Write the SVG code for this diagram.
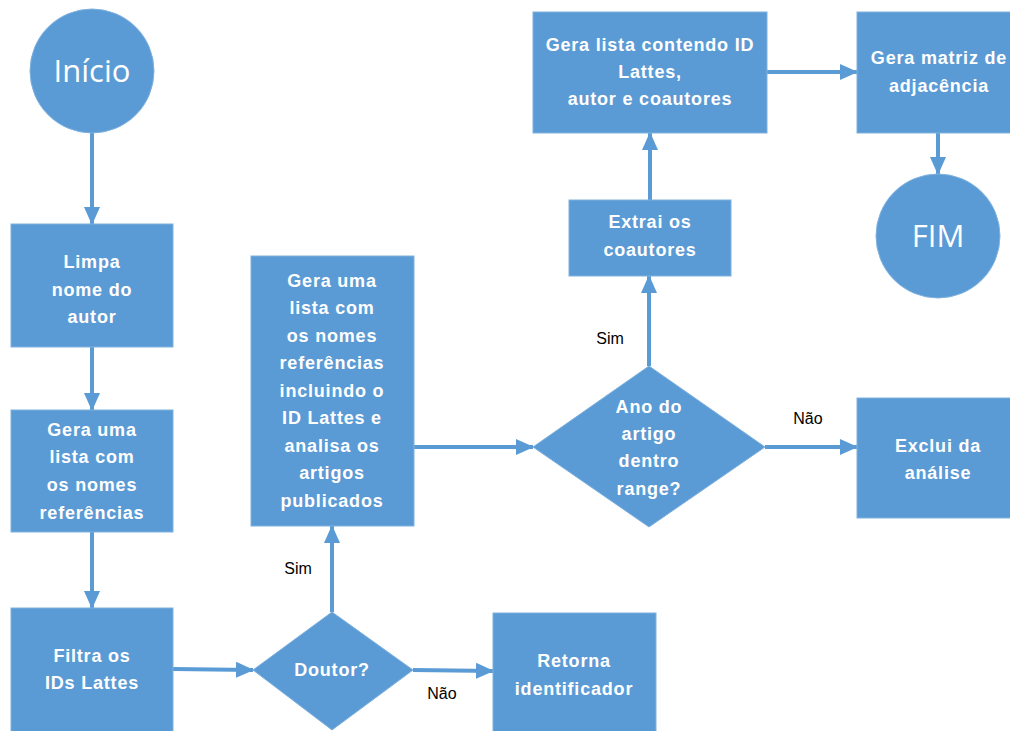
<svg xmlns="http://www.w3.org/2000/svg" width="1010" height="731" viewBox="0 0 1010 731">
<defs>
<style>
.n{fill:#5b9bd5;stroke:#7fb1de;stroke-width:1}
.t{font-family:"Liberation Sans",Arial,sans-serif;font-weight:bold;font-size:18px;letter-spacing:0.8px;fill:#ffffff;text-anchor:middle}
.big{font-family:"Open Sans","Liberation Sans",sans-serif;font-size:31px;fill:#ffffff;text-anchor:middle}
.l{font-family:"Liberation Sans",Arial,sans-serif;font-size:16px;fill:#000000;text-anchor:middle}
.c{stroke:#5b9bd5;stroke-width:4;fill:none;marker-end:url(#ah)}
</style>
<marker id="ah" markerUnits="userSpaceOnUse" markerWidth="18" markerHeight="18" viewBox="0 0 18 18" refX="17" refY="9" orient="auto">
<path d="M0,1 L18,9 L0,17 Z" fill="#5b9bd5"/>
</marker>
</defs>
<rect width="1010" height="731" fill="#ffffff"/>
<g id="connectors">
<line class="c" x1="92" y1="133" x2="92" y2="224"/>
<line class="c" x1="92" y1="347" x2="92" y2="410"/>
<line class="c" x1="92" y1="532" x2="92" y2="608"/>
<line class="c" x1="173" y1="669" x2="253" y2="670"/>
<line class="c" x1="332" y1="612" x2="332" y2="526"/>
<line class="c" x1="413" y1="670" x2="493" y2="671"/>
<line class="c" x1="414" y1="447" x2="533" y2="447"/>
<line class="c" x1="649" y1="366" x2="649" y2="276"/>
<line class="c" x1="765" y1="447" x2="857" y2="447"/>
<line class="c" x1="650" y1="200" x2="650" y2="133"/>
<line class="c" x1="767" y1="72" x2="857" y2="72"/>
<line class="c" x1="938" y1="133" x2="938" y2="174"/>
<text class="l" x="298" y="574">Sim</text>
<text class="l" x="442" y="699">Não</text>
<text class="l" x="610" y="344">Sim</text>
<text class="l" x="808" y="424">Não</text>
</g>
<g id="inicio">
<circle class="n" cx="92" cy="71" r="62"/>
<text class="big" x="92" y="82">Início</text>
</g>
<g id="limpa">
<rect class="n" x="11" y="224" width="162" height="123"/>
<text class="t" x="92" y="268">Limpa</text>
<text class="t" x="92" y="296">nome do</text>
<text class="t" x="92" y="323">autor</text>
</g>
<g id="gera-lista">
<rect class="n" x="11" y="410" width="162" height="122"/>
<text class="t" x="92" y="436">Gera uma</text>
<text class="t" x="92" y="463">lista com</text>
<text class="t" x="92" y="491">os nomes</text>
<text class="t" x="92" y="519">referências</text>
</g>
<g id="filtra">
<rect class="n" x="11" y="608" width="162" height="130"/>
<text class="t" x="92" y="662">Filtra os</text>
<text class="t" x="92" y="689">IDs Lattes</text>
</g>
<g id="doutor">
<polygon class="n" points="253,670 332,612 413,670 332,730"/>
<text class="t" x="332" y="676">Doutor?</text>
</g>
<g id="retorna">
<rect class="n" x="493" y="613" width="163" height="125"/>
<text class="t" x="574" y="667">Retorna</text>
<text class="t" x="574" y="695">identificador</text>
</g>
<g id="gera-lista-id">
<rect class="n" x="251" y="256" width="163" height="270"/>
<text class="t" x="332" y="287">Gera uma</text>
<text class="t" x="332" y="314">lista com</text>
<text class="t" x="332" y="342">os nomes</text>
<text class="t" x="332" y="369">referências</text>
<text class="t" x="332" y="397">incluindo o</text>
<text class="t" x="332" y="424">ID Lattes e</text>
<text class="t" x="332" y="452">analisa os</text>
<text class="t" x="332" y="479">artigos</text>
<text class="t" x="332" y="507">publicados</text>
</g>
<g id="ano">
<polygon class="n" points="533,447 649,366 765,447 649,527"/>
<text class="t" x="649" y="413">Ano do</text>
<text class="t" x="649" y="440">artigo</text>
<text class="t" x="649" y="467">dentro</text>
<text class="t" x="649" y="495">range?</text>
</g>
<g id="exclui">
<rect class="n" x="857" y="398" width="162" height="120"/>
<text class="t" x="938" y="452">Exclui da</text>
<text class="t" x="938" y="479">análise</text>
</g>
<g id="extrai">
<rect class="n" x="569" y="200" width="162" height="76"/>
<text class="t" x="650" y="228">Extrai os</text>
<text class="t" x="650" y="256">coautores</text>
</g>
<g id="gera-lista-coautores">
<rect class="n" x="533" y="12" width="234" height="121"/>
<text class="t" x="650" y="51">Gera lista contendo ID</text>
<text class="t" x="650" y="78">Lattes,</text>
<text class="t" x="650" y="105">autor e coautores</text>
</g>
<g id="matriz">
<rect class="n" x="857" y="12" width="162" height="121"/>
<text class="t" x="939" y="64">Gera matriz de</text>
<text class="t" x="939" y="92">adjacência</text>
</g>
<g id="fim">
<circle class="n" cx="938" cy="236" r="62"/>
<text class="big" x="938" y="247">FIM</text>
</g>
</svg>
